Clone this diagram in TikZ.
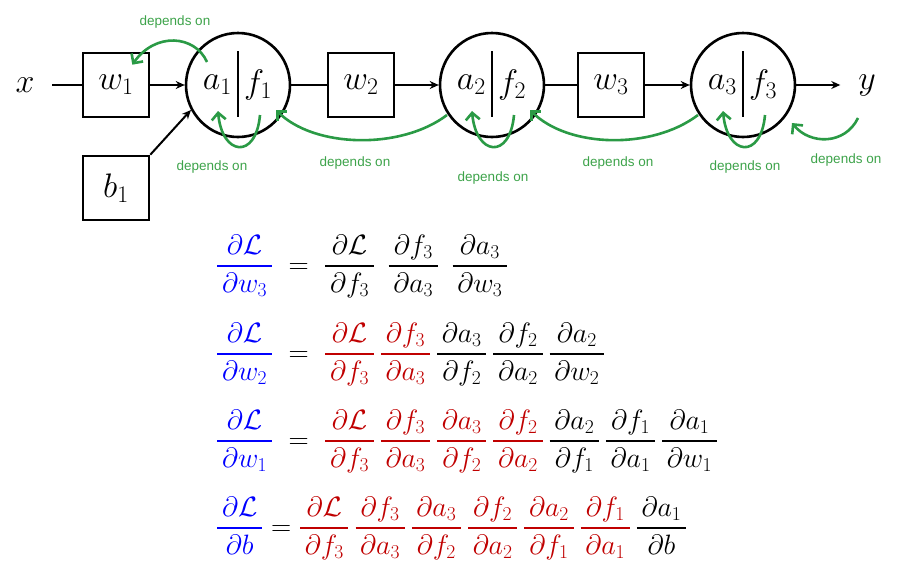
\RequirePackage{fix-cm}
\documentclass[tikz,border=0pt]{standalone}
\usepackage{amsmath,amssymb}
\usepackage{fontspec}
\setsansfont{Liberation Sans}
\usepackage{xcolor}
\usetikzlibrary{arrows.meta,positioning,calc}
\definecolor{grad}{HTML}{2A9A45}
\definecolor{lbl}{HTML}{3DA34A}
\definecolor{chain}{HTML}{C00000}
\definecolor{target}{HTML}{0000FF}
\newcommand{\pfrac}[2]{\dfrac{\,\partial #1\,}{\,\partial #2\,}}

\begin{document}
\begin{tikzpicture}[x=1pt,y=1pt,>={Stealth[length=9pt,width=8pt]},
 var/.style={inner sep=0pt,outer sep=18pt,font=\fontsize{34}{40}\selectfont},
 weight/.style={draw,line width=2.6pt,minimum width=66pt,minimum height=64pt,inner sep=0pt,font=\fontsize{34}{40}\selectfont},
 neuron/.style={draw,circle,line width=2.6pt,minimum size=104pt,inner sep=0pt},
 half/.style={inner sep=1pt,font=\fontsize{34}{40}\selectfont},
 wire/.style={line width=2pt},
 dep/.style={line width=2.6pt,color=grad,-{Straight Barb[length=7pt,width=14pt]}},
 note/.style={font=\sffamily\fontsize{13.5}{16}\selectfont,text=lbl},
 eqn/.style={anchor=base west,inner sep=0pt,font=\fontsize{28}{34}\selectfont}]
\useasboundingbox (0,0) rectangle (912,-576);
\node[var] (x) at (25,-85) {$x$};
\node[weight] (w1) at (116,-85) {$w_1$};
\node[neuron] (c1) at (238,-85) {};
\node[weight] (w2) at (361,-85) {$w_2$};
\node[neuron] (c2) at (492,-85) {};
\node[weight] (w3) at (611,-85) {$w_3$};
\node[neuron] (c3) at (743,-85) {};
\node[var] (y) at (867,-85) {$y$};
\node[weight] (b1) at (116,-188) {$b_1$};
\foreach \n in {1,2,3} {
  \draw[line width=2.2pt] ($(c\n)+(0,34)$) -- ($(c\n)+(0,-32)$);
  \node[half,left=5pt of c\n.center] (a\n) {$a_\n$};
  \node[half,right=5pt of c\n.center] (f\n) {$f_\n$};
}
\draw[wire] (x) -- (w1);
\draw[wire,->] (w1) -- (c1);
\draw[wire] (c1) -- (w2);
\draw[wire,->] (w2) -- (c2);
\draw[wire] (c2) -- (w3);
\draw[wire,->] (w3) -- (c3);
\draw[wire,->] (c3) -- (y);
\draw[wire,->] (b1.north east) -- (c1.208);
\draw[dep] ($(c1)+(-31,23)$) .. controls +(-12,27) and +(23,33) .. ($(w1.north east)+(-18,-13)$);
\foreach \c in {c1,c2,c3}
  \draw[dep] ($(\c)+(22,-30)$) .. controls +(-4,-45) and +(4,-45) .. ($(\c)+(-20,-26)$);
\foreach \a/\b in {c2/c1,c3/c2}
  \draw[dep] ($(\a)+(-45,-30)$) .. controls +(-46,-35) and +(38,-38) .. ($(\b)+(38,-25)$);
\draw[dep] ($(y)+(-9,-33)$) .. controls +(-13,-27) and +(18,-22) .. ($(c3)+(49,-38)$);
\node[note] (d1) at (175,-22) {depends on};
\node[note] (d2) at (212,-167) {depends on};
\node[note] (d3) at (355,-163) {depends on};
\node[note] (d4) at (493,-178) {depends on};
\node[note] (d5) at (618,-163) {depends on};
\node[note] (d6) at (745,-167) {depends on};
\node[note] (d7) at (846,-160) {depends on};
\node[eqn] (e1) at (216,-273) {$\textcolor{target}{\pfrac{\mathcal{L}}{w_3}} \;=\; \pfrac{\mathcal{L}}{f_3}\mkern8mu\pfrac{f_3}{a_3}\mkern8mu\pfrac{a_3}{w_3}$};
\node[eqn] (e2) at (216,-361) {$\textcolor{target}{\pfrac{\mathcal{L}}{w_2}} \;=\; \textcolor{chain}{\pfrac{\mathcal{L}}{f_3}\,\pfrac{f_3}{a_3}}\,\pfrac{a_3}{f_2}\,\pfrac{f_2}{a_2}\,\pfrac{a_2}{w_2}$};
\node[eqn] (e3) at (216,-448) {$\textcolor{target}{\pfrac{\mathcal{L}}{w_1}} \;=\; \textcolor{chain}{\pfrac{\mathcal{L}}{f_3}\,\pfrac{f_3}{a_3}\,\pfrac{a_3}{f_2}\,\pfrac{f_2}{a_2}}\,\pfrac{a_2}{f_1}\,\pfrac{f_1}{a_1}\,\pfrac{a_1}{w_1}$};
\node[eqn] (e4) at (216,-535) {$\textcolor{target}{\pfrac{\mathcal{L}}{b}} = \textcolor{chain}{\pfrac{\mathcal{L}}{f_3}\,\pfrac{f_3}{a_3}\,\pfrac{a_3}{f_2}\,\pfrac{f_2}{a_2}\,\pfrac{a_2}{f_1}\,\pfrac{f_1}{a_1}}\,\pfrac{a_1}{b}$};
\end{tikzpicture}
\end{document}
